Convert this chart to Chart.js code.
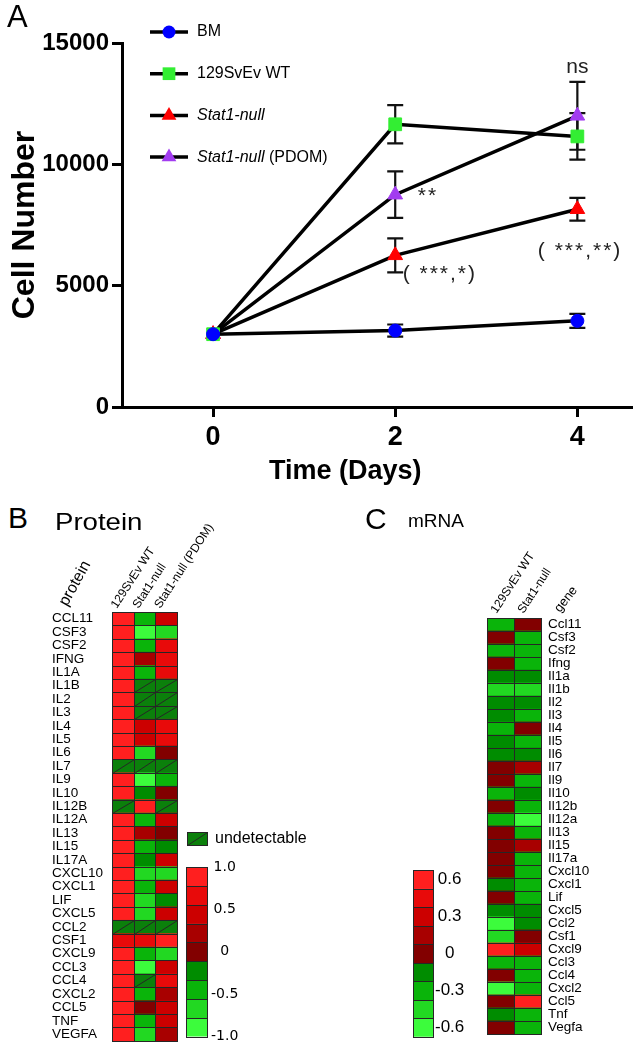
<!DOCTYPE html>
<html>
<head>
<meta charset="utf-8">
<script src="https://cdn.jsdelivr.net/npm/chart.js@4.4.0/dist/chart.umd.min.js"></script>
<style>
  body { margin: 0; background: #fff; }
  #page { position: relative; width: 635px; height: 1049px; overflow: hidden; font-family: "Liberation Sans", Arial, sans-serif; }
  canvas { position: absolute; }
  .lbl { position: absolute; line-height: 1; white-space: nowrap; color: #000; }
</style>
</head>
<body>
<div id="page">
  <canvas id="growth" width="635" height="500" style="left:0;top:0;width:635px;height:500px"></canvas>
  <canvas id="protein" width="280" height="549" style="left:40px;top:500px;width:280px;height:549px"></canvas>
  <canvas id="proteinKey" width="80" height="199" style="left:180px;top:850px;width:80px;height:199px"></canvas>
  <canvas id="mrna" width="165" height="529" style="left:470px;top:520px;width:165px;height:529px"></canvas>
  <canvas id="mrnaKey" width="80" height="194" style="left:405px;top:855px;width:80px;height:194px"></canvas>

  <div class="lbl" style="left:7px;top:1px;font-size:31px">A</div>
  <div class="lbl" style="left:269px;top:457px;font-size:27px;font-weight:bold">Time (Days)</div>
  <div class="lbl" style="left:8px;top:503px;font-size:30px">B</div>
  <div class="lbl" style="left:55px;top:510px;font-size:24px;transform:scaleX(1.15);transform-origin:left">Protein</div>
  <div class="lbl" style="left:365px;top:504px;font-size:30px">C</div>
  <div class="lbl" style="left:408px;top:511px;font-size:19px">mRNA</div>
</div>

<script>
const FONT = "'Liberation Sans', Arial, sans-serif";

// ---- panel A: cell growth ----
const days = [0, 2, 4];
const xTicks = [0, 2, 4];
const bmMean = [3000, 3150, 3550];
const bmErr = [0, 250, 290];
const wtMean = [3000, 11650, 11150];
const wtErr = [0, 790, 960];
const nullMean = [3000, 6250, 8150];
const nullErr = [0, 700, 470];
const pdomMean = [3000, 8750, 12000];
const pdomErr = [0, 960, 1400];
const seriesNames = ['BM', '129SvEv WT', 'Stat1-null', 'Stat1-null (PDOM)'];

// significance notes (day, cell number)
const noteText = ['ns', '**', '( ***,*)', '( ***,**)'];
const noteDay = [4, 2.36, 2.49, 4.03];
const noteVal = [14000, 8700, 5480, 6430];

// ---- panel B: protein heatmap ----
const proteinRows = ['CCL11','CSF3','CSF2','IFNG','IL1A','IL1B','IL2','IL3','IL4','IL5','IL6','IL7','IL9','IL10','IL12B','IL12A','IL13','IL15','IL17A','CXCL10','CXCL1','LIF','CXCL5','CCL2','CSF1','CXCL9','CCL3','CCL4','CXCL2','CCL5','TNF','VEGFA'];
const proteinCols = ['129SvEv WT', 'Stat1-null', 'Stat1-null (PDOM)'];
// null = undetectable
const proteinWT = [0.9,0.9,0.9,0.9,0.9,0.9,0.9,0.9,0.9,0.9,0.9,null,0.9,0.9,null,0.9,0.9,0.9,0.9,0.9,0.9,0.9,0.9,null,0.7,0.9,0.9,0.9,0.9,0.9,0.9,0.9];
const proteinNull = [-0.5,-0.9,-0.4,0.2,-0.4,null,null,null,0.45,0.45,-0.7,null,-0.9,-0.2,0.9,-0.45,0.2,-0.45,-0.2,-0.7,-0.45,-0.7,-0.7,null,0.7,-0.45,-0.9,null,-0.45,0.05,-0.45,-0.7];
const proteinPdom = [0.55,-0.7,0.6,0.6,0.7,null,null,null,0.7,0.7,0.05,null,-0.45,0.05,null,0.45,0.05,-0.2,0.45,-0.7,0.45,-0.2,0.45,null,0.9,-0.7,0.45,0.7,0.2,0.45,0.45,0.2];
const proteinTicks = [1, 0.5, 0, -0.5, -1];

// ---- panel C: mRNA heatmap ----
const geneRows = ['Ccl11','Csf3','Csf2','Ifng','Il1a','Il1b','Il2','Il3','Il4','Il5','Il6','Il7','Il9','Il10','Il12b','Il12a','Il13','Il15','Il17a','Cxcl10','Cxcl1','Lif','Cxcl5','Ccl2','Csf1','Cxcl9','Ccl3','Ccl4','Cxcl2','Ccl5','Tnf','Vegfa'];
const geneCols = ['129SvEv WT', 'Stat1-null'];
const geneWT = [-0.3,0,-0.3,0,-0.15,-0.45,-0.15,-0.15,-0.3,-0.15,-0.15,0,0,-0.3,0,-0.3,0,0,0,0,-0.15,0,-0.15,-0.6,-0.45,0.6,-0.3,0,-0.6,0,-0.15,0];
const geneNull = [0,-0.3,-0.3,-0.3,-0.15,-0.45,-0.15,-0.3,0,-0.3,-0.15,0.15,-0.3,-0.15,-0.3,-0.6,-0.3,0.15,-0.3,-0.3,-0.3,-0.3,-0.15,-0.15,0,0.3,-0.3,-0.3,-0.3,0.6,-0.3,-0.3];
const geneTicks = [0.6, 0.3, 0, -0.3, -0.6];

const palette = ['#ff1f1f','#e80a0a','#cc0000','#a80000','#820000','#008c00','#0ab40a','#22d822','#3cfc3c'];
const undetColor = '#0b800b';

function proteinColor(v) {
  if (v === null) return undetColor;
  let k = Math.floor((1 - v) / (2 / 9));
  return palette[Math.max(0, Math.min(8, k))];
}
function geneColor(v) {
  let k = Math.round((0.6 - v) / 0.15);
  return palette[Math.max(0, Math.min(8, k))];
}

function drawMarker(ctx, style, x, y, r, color) {
  ctx.save();
  ctx.fillStyle = color;
  ctx.beginPath();
  if (style === 'circle') {
    ctx.arc(x, y, r, 0, Math.PI * 2);
  } else if (style === 'rect') {
    let s = r * Math.SQRT1_2;
    ctx.rect(x - s, y - s, 2 * s, 2 * s);
  } else {
    let a = 0;
    ctx.moveTo(x + Math.sin(a) * r, y - Math.cos(a) * r);
    a += Math.PI * 2 / 3;
    ctx.lineTo(x + Math.sin(a) * r, y - Math.cos(a) * r);
    a += Math.PI * 2 / 3;
    ctx.lineTo(x + Math.sin(a) * r, y - Math.cos(a) * r);
    ctx.closePath();
  }
  ctx.fill();
  ctx.restore();
}

const errorBars = {
  id: 'errorBars',
  beforeDatasetsDraw(chart) {
    const ctx = chart.ctx, xs = chart.scales.x, ys = chart.scales.y;
    ctx.save();
    ctx.strokeStyle = '#111';
    ctx.lineWidth = 2.2;
    chart.data.datasets.forEach(ds => {
      ds.data.forEach((p, i) => {
        const e = ds.errors[i];
        if (!e) return;
        const x = xs.getPixelForValue(p.x);
        const t = ys.getPixelForValue(p.y + e), b = ys.getPixelForValue(p.y - e);
        ctx.beginPath();
        ctx.moveTo(x, t); ctx.lineTo(x, b);
        ctx.moveTo(x - 8, t); ctx.lineTo(x + 8, t);
        ctx.moveTo(x - 8, b); ctx.lineTo(x + 8, b);
        ctx.stroke();
      });
    });
    ctx.restore();
  }
};

const keyList = {
  id: 'keyList',
  afterDraw(chart) {
    const ctx = chart.ctx;
    chart.data.datasets.forEach((ds, i) => {
      const y = 32 + i * 41.7;
      ctx.save();
      ctx.strokeStyle = '#000';
      ctx.lineWidth = 3.5;
      ctx.beginPath(); ctx.moveTo(150, y); ctx.lineTo(188, y); ctx.stroke();
      drawMarker(ctx, ds.pointStyle, 169, y, ds.pointRadius, ds.pointBackgroundColor);
      let x = 197;
      ctx.fillStyle = '#000';
      ctx.textBaseline = 'middle';
      const parts = ds.label.startsWith('Stat1-null')
        ? [['italic ', 'Stat1-null'], ['', ds.label.slice(10)]]
        : [['', ds.label]];
      parts.forEach(([st, t]) => {
        ctx.font = st + '16px ' + FONT;
        ctx.fillText(t, x, y);
        x += ctx.measureText(t).width;
      });
      ctx.restore();
    });
  }
};

const notes = {
  id: 'notes',
  afterDraw(chart) {
    const ctx = chart.ctx, xs = chart.scales.x, ys = chart.scales.y;
    ctx.save();
    ctx.fillStyle = '#222';
    ctx.font = '21px ' + FONT;
    ctx.textAlign = 'center';
    ctx.textBaseline = 'middle';
    noteText.forEach((t, i) => {
      ctx.letterSpacing = t === 'ns' ? '0px' : '2px';
      ctx.fillText(t, xs.getPixelForValue(noteDay[i]), ys.getPixelForValue(noteVal[i]));
    });
    ctx.restore();
  }
};

function series(label, mean, err, style, radius, color) {
  return {
    label: label,
    data: days.map((d, i) => ({ x: d, y: mean[i] })),
    errors: err,
    borderColor: '#000',
    borderWidth: 3.5,
    pointStyle: style,
    pointRadius: radius,
    pointBackgroundColor: color,
    pointBorderColor: color,
    pointBorderWidth: 1,
    tension: 0
  };
}

const axisGrid = { drawOnChartArea: false, drawTicks: true, tickLength: 10, tickWidth: 3, tickColor: '#000' };

new Chart(document.getElementById('growth'), {
  type: 'line',
  data: {
    datasets: [
      series(seriesNames[0], bmMean, bmErr, 'circle', 6.5, '#0000ff'),
      series(seriesNames[1], wtMean, wtErr, 'rect', 9, '#33ee33'),
      series(seriesNames[2], nullMean, nullErr, 'triangle', 8.5, '#ff0000'),
      series(seriesNames[3], pdomMean, pdomErr, 'triangle', 8.5, '#a23cf0')
    ]
  },
  options: {
    responsive: false,
    animation: false,
    layout: { autoPadding: false, padding: { top: 43, right: 3, left: 0, bottom: 0 } },
    plugins: { legend: { display: false }, tooltip: { enabled: false } },
    scales: {
      x: {
        type: 'linear', min: -1, max: 4.6,
        afterBuildTicks: s => { s.ticks = xTicks.map(v => ({ value: v })); },
        grid: axisGrid,
        border: { color: '#000', width: 3 },
        ticks: { font: { size: 27, weight: 'bold', family: FONT }, color: '#000', padding: 4 },
        afterFit: s => { s.height = 93; }
      },
      y: {
        min: 0, max: 15000,
        grid: axisGrid,
        border: { color: '#000', width: 3 },
        ticks: { stepSize: 5000, callback: v => String(v), font: { size: 24, weight: 'bold', family: FONT }, color: '#000', padding: 3 },
        title: { display: true, text: 'Cell Number', color: '#000', font: { size: 32, weight: 'bold', family: FONT }, padding: { top: 6, bottom: 0 } },
        afterFit: s => { s.width = 122; }
      }
    }
  },
  plugins: [errorBars, keyList, notes]
});

// ---- heatmaps ----
function cellBox(bar) {
  const p = bar.getProps(['x', 'y', 'base', 'width', 'height', 'horizontal'], true);
  if (p.horizontal) {
    return { l: Math.min(p.base, p.x), r: Math.max(p.base, p.x), t: p.y - p.height / 2, b: p.y + p.height / 2 };
  }
  return { l: p.x - p.width / 2, r: p.x + p.width / 2, t: Math.min(p.y, p.base), b: Math.max(p.y, p.base) };
}

const cellLines = {
  id: 'cellLines',
  afterDatasetsDraw(chart) {
    const ctx = chart.ctx;
    ctx.save();
    ctx.strokeStyle = '#262626';
    ctx.lineWidth = 1;
    chart.data.datasets.forEach((ds, di) => {
      chart.getDatasetMeta(di).data.forEach((bar, i) => {
        const c = cellBox(bar);
        const L = Math.round(c.l) + 0.5, R = Math.round(c.r) + 0.5;
        const T = Math.round(c.t) + 0.5, B = Math.round(c.b) + 0.5;
        ctx.strokeRect(L, T, R - L, B - T);
        if (ds.values && ds.values[i] === null) {
          ctx.beginPath(); ctx.moveTo(L, B); ctx.lineTo(R, T); ctx.stroke();
        }
      });
    });
    ctx.restore();
  }
};

const heatHeader = {
  id: 'heatHeader',
  afterDraw(chart, args, opts) {
    const ctx = chart.ctx, xs = chart.scales.x, top = chart.chartArea.top;
    ctx.save();
    ctx.fillStyle = '#000';
    ctx.textAlign = 'left';
    ctx.textBaseline = 'alphabetic';
    opts.columns.forEach((t, i) => {
      ctx.save();
      ctx.translate(xs.getPixelForValue(i + 0.5) + opts.dx, top - opts.dy);
      ctx.rotate(-opts.angle * Math.PI / 180);
      ctx.font = opts.size + 'px ' + FONT;
      ctx.fillText(t, 0, 0);
      ctx.restore();
    });
    opts.extra.forEach(e => {
      ctx.save();
      ctx.translate(e.x, e.y);
      ctx.rotate(-e.angle * Math.PI / 180);
      ctx.font = e.size + 'px ' + FONT;
      ctx.fillText(e.text, 0, 0);
      ctx.restore();
    });
    if (opts.undetectable) {
      const u = opts.undetectable;
      ctx.fillStyle = undetColor;
      ctx.fillRect(u.x, u.y, 20, 13);
      ctx.strokeStyle = '#262626';
      ctx.lineWidth = 1;
      ctx.strokeRect(u.x + 0.5, u.y + 0.5, 20, 13);
      ctx.beginPath(); ctx.moveTo(u.x + 0.5, u.y + 13.5); ctx.lineTo(u.x + 20.5, u.y + 0.5); ctx.stroke();
      ctx.fillStyle = '#000';
      ctx.font = '16px ' + FONT;
      ctx.textBaseline = 'middle';
      ctx.fillText('undetectable', u.x + 28, u.y + 7);
    }
    ctx.restore();
  }
};

function heatChart(id, rows, columns, colorOf, o) {
  return new Chart(document.getElementById(id), {
    type: 'bar',
    data: {
      labels: rows,
      datasets: columns.map(vals => ({
        data: vals.map(() => 1),
        values: vals,
        backgroundColor: vals.map(colorOf),
        borderWidth: 0,
        barPercentage: 1,
        categoryPercentage: 1
      }))
    },
    options: {
      indexAxis: 'y',
      responsive: false,
      animation: false,
      layout: { autoPadding: false, padding: o.padding },
      plugins: { legend: { display: false }, tooltip: { enabled: false }, heatHeader: o.header },
      scales: {
        x: { stacked: true, display: false, min: 0, max: columns.length },
        y: {
          stacked: true,
          position: o.side,
          grid: { display: false, drawTicks: false },
          border: { display: false },
          ticks: { autoSkip: false, color: '#000', font: { size: 13.5, family: FONT }, padding: o.tickPad, crossAlign: o.side === 'left' ? 'far' : 'near' },
          afterFit: s => { s.width = o.axisWidth; }
        }
      }
    },
    plugins: [cellLines, heatHeader]
  });
}

heatChart('protein', proteinRows, [proteinWT, proteinNull, proteinPdom], proteinColor, {
  side: 'left', axisWidth: 60, tickPad: 0,
  padding: { left: 12, right: 143, top: 112, bottom: 6 },
  header: {
    columns: proteinCols, dx: -6, dy: 3, angle: 57, size: 12,
    extra: [{ text: 'protein', x: 27, y: 107, angle: 61, size: 16 }],
    undetectable: { x: 147, y: 332 }
  }
});

heatChart('mrna', geneRows, [geneWT, geneNull], geneColor, {
  side: 'right', axisWidth: 94, tickPad: 7,
  padding: { left: 17, right: 0, top: 98, bottom: 2 },
  header: {
    columns: geneCols, dx: -4, dy: 4, angle: 57, size: 12,
    extra: [{ text: 'gene', x: 90, y: 93, angle: 52, size: 13 }]
  }
});

// ---- colour keys ----
function scaleKey(id, hi, lo, tickVals, font, o) {
  const step = (hi - lo) / palette.length;
  return new Chart(document.getElementById(id), {
    type: 'bar',
    data: {
      labels: [''],
      datasets: palette.map((c, k) => ({
        data: [[hi - (k + 1) * step, hi - k * step]],
        backgroundColor: c,
        borderWidth: 0,
        grouped: false,
        barPercentage: 1,
        categoryPercentage: 1
      }))
    },
    options: {
      responsive: false,
      animation: false,
      layout: { autoPadding: false, padding: o.padding },
      plugins: { legend: { display: false }, tooltip: { enabled: false } },
      scales: {
        x: { display: false },
        y: {
          position: 'right', min: lo, max: hi,
          afterBuildTicks: s => { s.ticks = tickVals.map(v => ({ value: v })); },
          grid: { display: false, drawTicks: false },
          border: { display: false },
          ticks: { callback: v => v === 0 ? '0' : v.toFixed(1), color: '#000', font: font, padding: o.tickPad, crossAlign: 'center' },
          afterFit: s => { s.width = o.axisWidth; }
        }
      }
    },
    plugins: [cellLines]
  });
}

scaleKey('proteinKey', 1, -1, proteinTicks, { size: 14, family: "'DejaVu Sans', sans-serif" }, {
  padding: { left: 6, right: 0, top: 17, bottom: 11 }, axisWidth: 53, tickPad: 4
});
scaleKey('mrnaKey', 0.675, -0.675, geneTicks, { size: 17, family: FONT }, {
  padding: { left: 8, right: 0, top: 15, bottom: 5 }, axisWidth: 52, tickPad: 2
});
</script>
</body>
</html>
